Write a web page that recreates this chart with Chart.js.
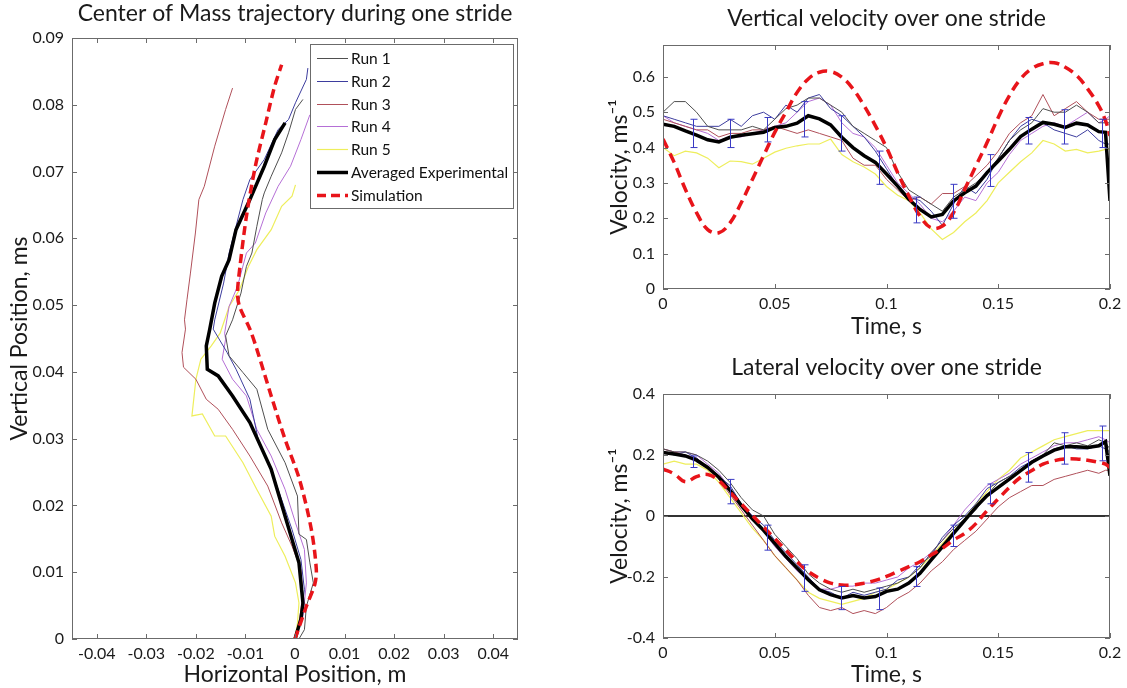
<!DOCTYPE html>
<html lang="en">
<head>
<meta charset="UTF-8">
<title>Centre of mass during one stride</title>
<script src="https://cdn.jsdelivr.net/npm/chart.js"></script>
<style>
  body { margin: 0; background: #fff; overflow: hidden; }
  #wrap { position: relative; width: 1127px; height: 688px; }
  canvas { position: absolute; }
</style>
</head>
<body>
<div id="wrap">
  <canvas id="trajectory" width="560" height="688" style="left:0;top:0"></canvas>
  <canvas id="vertical" width="537" height="340" style="left:590px;top:0"></canvas>
  <canvas id="lateral" width="537" height="343" style="left:590px;top:345px"></canvas>
</div>
<script>
// ---- trajectory (horizontal / vertical position, m) ----
const run1X = [0.0008, 0.0019, 0.0023, 0.0037, 0.003, 0.0023, 0.0008, 0.0005, -0.002, -0.0055, -0.0077, -0.0105, -0.0133, -0.014, -0.0126, -0.0109, -0.0098, -0.0087, -0.0077, -0.0066, -0.0062, -0.0048, -0.0027, -0.0013, 0.0001, 0.0016];
const run1Y = [0, 0.0014, 0.0049, 0.0084, 0.0114, 0.0149, 0.0157, 0.0214, 0.0264, 0.0314, 0.0374, 0.0399, 0.0424, 0.0454, 0.0478, 0.0518, 0.0558, 0.0578, 0.0618, 0.0658, 0.0668, 0.0693, 0.0728, 0.0758, 0.0793, 0.0808];
const run2X = [0, 0.0012, 0.0019, 0.0012, -0.0006, -0.0027, -0.0048, -0.0073, -0.0091, -0.0119, -0.0137, -0.0165, -0.0162, -0.0144, -0.0133, -0.0119, -0.0105, -0.0091, -0.0062, -0.0034, -0.0013, 0.0001, 0.0023, 0.0026];
const run2Y = [0, 0.0034, 0.0074, 0.0119, 0.0164, 0.0209, 0.0254, 0.0294, 0.0359, 0.0404, 0.0429, 0.0464, 0.0478, 0.0533, 0.0578, 0.0618, 0.0658, 0.0688, 0.0718, 0.0763, 0.0778, 0.0803, 0.0838, 0.0855];
const run3X = [0, 0.0008, 0.0016, 0.0012, -0.0006, -0.0027, -0.0055, -0.0091, -0.0126, -0.0155, -0.0179, -0.02, -0.0225, -0.0228, -0.0221, -0.0223, -0.0218, -0.0211, -0.0201, -0.0194, -0.0183, -0.0162, -0.014, -0.0126];
const run3Y = [0, 0.0024, 0.0064, 0.0104, 0.0139, 0.0174, 0.0229, 0.0274, 0.0314, 0.0344, 0.0359, 0.0389, 0.0407, 0.0429, 0.0464, 0.0478, 0.0508, 0.0548, 0.0608, 0.0658, 0.0678, 0.0738, 0.0793, 0.0825];
const run4X = [0, 0.0016, 0.0023, 0.0019, 0.0001, -0.002, -0.0048, -0.0077, -0.0098, -0.0126, -0.0147, -0.014, -0.0142, -0.0133, -0.0116, -0.0098, -0.008, -0.0059, -0.0034, -0.0009, 0.0012, 0.003];
const run4Y = [0, 0.0034, 0.0084, 0.0134, 0.0174, 0.0224, 0.0274, 0.0314, 0.0364, 0.0389, 0.0419, 0.0449, 0.0458, 0.0498, 0.0528, 0.0578, 0.0593, 0.0638, 0.0678, 0.0708, 0.0748, 0.0785];
const run5X = [0, 0.0005, 0.0008, 0.0001, -0.002, -0.0041, -0.0048, -0.0077, -0.0105, -0.014, -0.0162, -0.0187, -0.0208, -0.02, -0.019, -0.0169, -0.0151, -0.0133, -0.0112, -0.0094, -0.0077, -0.0048, -0.0027, -0.0006, 0.0001];
const run5Y = [0, 0.0024, 0.0054, 0.0084, 0.0124, 0.0154, 0.0184, 0.0224, 0.0264, 0.0304, 0.0304, 0.0337, 0.0334, 0.0389, 0.0419, 0.0439, 0.0458, 0.0498, 0.0523, 0.0558, 0.0583, 0.0613, 0.0648, 0.0663, 0.068];
const avgX = [0, 0.0012, 0.0016, 0.0008, -0.002, -0.0048, -0.0091, -0.0126, -0.0155, -0.0177, -0.0179, -0.0172, -0.0162, -0.0148, -0.0133, -0.0119, -0.0091, -0.0062, -0.0041, -0.002];
const avgY = [0, 0.003, 0.0054, 0.0114, 0.0184, 0.0254, 0.0324, 0.0364, 0.0394, 0.0404, 0.0439, 0.0464, 0.0503, 0.0543, 0.0568, 0.0613, 0.0658, 0.0708, 0.0748, 0.0773];
const simX = [0, 0.0023, 0.004, 0.0043, 0.0033, 0.0009, -0.002, -0.0048, -0.0077, -0.0091, -0.0112, -0.0116, -0.0111, -0.0098, -0.008, -0.0059, -0.0041, -0.0027];
const simY = [0, 0.0049, 0.0082, 0.0104, 0.0164, 0.0239, 0.0299, 0.0364, 0.0434, 0.0464, 0.0498, 0.0518, 0.0558, 0.0633, 0.0708, 0.0773, 0.0828, 0.086];

const posXTicks = [-0.04, -0.03, -0.02, -0.01, 0, 0.01, 0.02, 0.03, 0.04];
const posXLabels = ['-0.04', '-0.03', '-0.02', '-0.01', '0', '0.01', '0.02', '0.03', '0.04'];
const posYTicks = [0, 0.01, 0.02, 0.03, 0.04, 0.05, 0.06, 0.07, 0.08, 0.09];
const posYLabels = ['0', '0.01', '0.02', '0.03', '0.04', '0.05', '0.06', '0.07', '0.08', '0.09'];

// ---- velocities over one stride (s, m/s) ----
const time = [0, 0.005, 0.01, 0.015, 0.02, 0.025, 0.03, 0.035, 0.04, 0.045, 0.05, 0.055, 0.06, 0.065, 0.07, 0.075, 0.08, 0.085, 0.09, 0.095, 0.1, 0.105, 0.11, 0.115, 0.12, 0.125, 0.13, 0.135, 0.14, 0.145, 0.15, 0.155, 0.16, 0.165, 0.17, 0.175, 0.18, 0.185, 0.19, 0.195, 0.198, 0.2];

const vertRun1 = [0.50, 0.53, 0.53, 0.50, 0.46, 0.45, 0.45, 0.45, 0.46, 0.45, 0.48, 0.51, 0.52, 0.54, 0.54, 0.52, 0.50, 0.46, 0.44, 0.42, 0.40, 0.33, 0.28, 0.26, 0.24, 0.22, 0.26, 0.28, 0.30, 0.33, 0.37, 0.42, 0.45, 0.47, 0.51, 0.50, 0.50, 0.52, 0.50, 0.47, 0.47, 0.47];
const vertRun2 = [0.49, 0.48, 0.47, 0.46, 0.46, 0.46, 0.48, 0.46, 0.49, 0.50, 0.48, 0.52, 0.50, 0.54, 0.55, 0.51, 0.49, 0.46, 0.43, 0.39, 0.34, 0.29, 0.26, 0.25, 0.22, 0.18, 0.24, 0.29, 0.27, 0.31, 0.37, 0.42, 0.46, 0.48, 0.47, 0.45, 0.44, 0.43, 0.45, 0.42, 0.41, 0.41];
const vertRun3 = [0.48, 0.47, 0.46, 0.45, 0.45, 0.43, 0.44, 0.44, 0.45, 0.45, 0.46, 0.45, 0.44, 0.45, 0.44, 0.43, 0.42, 0.37, 0.35, 0.35, 0.31, 0.28, 0.25, 0.26, 0.24, 0.27, 0.27, 0.29, 0.32, 0.35, 0.39, 0.44, 0.47, 0.49, 0.55, 0.49, 0.51, 0.53, 0.50, 0.48, 0.48, 0.48];
const vertRun4 = [0.49, 0.47, 0.46, 0.45, 0.44, 0.42, 0.43, 0.43, 0.44, 0.45, 0.46, 0.47, 0.50, 0.53, 0.54, 0.52, 0.47, 0.44, 0.43, 0.40, 0.35, 0.30, 0.27, 0.24, 0.20, 0.19, 0.22, 0.26, 0.25, 0.30, 0.33, 0.38, 0.42, 0.44, 0.46, 0.47, 0.46, 0.48, 0.50, 0.47, 0.48, 0.49];
const vertRun5 = [0.40, 0.377, 0.39, 0.385, 0.37, 0.343, 0.362, 0.36, 0.353, 0.37, 0.387, 0.398, 0.405, 0.41, 0.41, 0.424, 0.38, 0.36, 0.345, 0.325, 0.29, 0.265, 0.25, 0.215, 0.17, 0.14, 0.16, 0.19, 0.215, 0.25, 0.30, 0.33, 0.36, 0.385, 0.42, 0.41, 0.39, 0.395, 0.385, 0.39, 0.395, 0.395];
const vertAvg = [0.466, 0.46, 0.447, 0.435, 0.422, 0.416, 0.429, 0.435, 0.439, 0.443, 0.457, 0.46, 0.469, 0.49, 0.481, 0.464, 0.429, 0.40, 0.377, 0.358, 0.325, 0.291, 0.254, 0.225, 0.204, 0.211, 0.249, 0.272, 0.291, 0.329, 0.362, 0.395, 0.431, 0.452, 0.471, 0.466, 0.457, 0.469, 0.464, 0.445, 0.443, 0.249];
const vertSim = [0.424, 0.358, 0.282, 0.216, 0.168, 0.159, 0.187, 0.244, 0.31, 0.377, 0.443, 0.50, 0.556, 0.594, 0.613, 0.615, 0.599, 0.566, 0.518, 0.462, 0.40, 0.329, 0.263, 0.206, 0.173, 0.178, 0.216, 0.282, 0.348, 0.414, 0.485, 0.547, 0.594, 0.623, 0.637, 0.64, 0.627, 0.604, 0.566, 0.518, 0.476, 0.433];

const latRun1 = [0.22, 0.21, 0.21, 0.20, 0.18, 0.15, 0.11, 0.06, 0.02, 0.0, -0.06, -0.10, -0.14, -0.19, -0.22, -0.24, -0.25, -0.24, -0.25, -0.24, -0.23, -0.22, -0.20, -0.17, -0.12, -0.08, -0.04, -0.01, 0.02, 0.07, 0.11, 0.13, 0.15, 0.18, 0.20, 0.24, 0.23, 0.24, 0.23, 0.25, 0.24, 0.22];
const latRun2 = [0.21, 0.20, 0.21, 0.19, 0.16, 0.13, 0.10, 0.04, 0.0, -0.03, -0.08, -0.12, -0.16, -0.20, -0.24, -0.25, -0.27, -0.25, -0.26, -0.25, -0.24, -0.21, -0.20, -0.16, -0.13, -0.07, -0.03, 0.0, 0.04, 0.09, 0.11, 0.13, 0.16, 0.18, 0.20, 0.22, 0.23, 0.22, 0.22, 0.23, 0.22, 0.21];
const latRun3 = [0.22, 0.21, 0.20, 0.19, 0.16, 0.12, 0.07, 0.02, -0.03, -0.08, -0.13, -0.17, -0.21, -0.26, -0.30, -0.31, -0.30, -0.32, -0.31, -0.32, -0.30, -0.27, -0.25, -0.22, -0.18, -0.15, -0.11, -0.08, -0.05, -0.01, 0.03, 0.06, 0.08, 0.10, 0.10, 0.12, 0.13, 0.14, 0.15, 0.14, 0.15, 0.15];
const latRun4 = [0.22, 0.21, 0.21, 0.20, 0.17, 0.14, 0.09, 0.04, 0.0, -0.05, -0.10, -0.14, -0.18, -0.21, -0.24, -0.24, -0.23, -0.23, -0.22, -0.22, -0.21, -0.20, -0.17, -0.15, -0.12, -0.08, -0.03, 0.02, 0.06, 0.10, 0.12, 0.14, 0.17, 0.19, 0.21, 0.23, 0.24, 0.24, 0.25, 0.26, 0.25, 0.24];
const latRun5 = [0.17, 0.18, 0.17, 0.17, 0.15, 0.11, 0.06, 0.01, -0.04, -0.08, -0.13, -0.17, -0.21, -0.25, -0.27, -0.28, -0.29, -0.28, -0.27, -0.25, -0.24, -0.22, -0.20, -0.17, -0.13, -0.09, -0.05, -0.01, 0.04, 0.08, 0.12, 0.15, 0.19, 0.21, 0.23, 0.25, 0.26, 0.27, 0.28, 0.28, 0.28, 0.28];
const latAvg = [0.208, 0.203, 0.197, 0.183, 0.159, 0.127, 0.084, 0.035, -0.009, -0.047, -0.09, -0.133, -0.171, -0.209, -0.242, -0.258, -0.269, -0.261, -0.269, -0.264, -0.247, -0.24, -0.22, -0.188, -0.144, -0.101, -0.057, -0.014, 0.029, 0.067, 0.094, 0.121, 0.149, 0.176, 0.197, 0.216, 0.227, 0.227, 0.225, 0.23, 0.244, 0.132];
const latSim = [0.154, 0.138, 0.112, 0.129, 0.136, 0.116, 0.078, 0.04, 0.002, -0.036, -0.074, -0.112, -0.15, -0.182, -0.204, -0.22, -0.226, -0.226, -0.22, -0.211, -0.198, -0.182, -0.166, -0.15, -0.128, -0.106, -0.079, -0.057, -0.025, 0.018, 0.056, 0.094, 0.127, 0.149, 0.17, 0.181, 0.187, 0.187, 0.183, 0.176, 0.17, 0.159];

// standard deviation bars on the averaged curve
const errTime = [0.0134, 0.0302, 0.0466, 0.063, 0.0798, 0.0966, 0.1131, 0.1298, 0.1464, 0.1631, 0.1795, 0.1964];
const vertLow = [0.40, 0.40, 0.416, 0.43, 0.39, 0.296, 0.187, 0.20, 0.29, 0.41, 0.41, 0.40];
const vertHigh = [0.48, 0.48, 0.485, 0.53, 0.49, 0.39, 0.26, 0.296, 0.38, 0.485, 0.507, 0.48];
const latLow = [0.159, 0.04, -0.112, -0.247, -0.307, -0.307, -0.231, -0.10, 0.04, 0.111, 0.17, 0.181];
const latHigh = [0.197, 0.12, -0.03, -0.16, -0.231, -0.236, -0.166, -0.03, 0.105, 0.208, 0.273, 0.295];

const timeTicks = [0, 0.05, 0.1, 0.15, 0.2];
const timeLabels = ['0', '0.05', '0.1', '0.15', '0.2'];
const vertTicks = [0, 0.1, 0.2, 0.3, 0.4, 0.5, 0.6];
const vertLabels = ['0', '0.1', '0.2', '0.3', '0.4', '0.5', '0.6'];
const latTicks = [-0.4, -0.2, 0, 0.2, 0.4];
const latLabels = ['-0.4', '-0.2', '0', '0.2', '0.4'];

const FONT = 'Lato, "Open Sans", sans-serif';
Chart.defaults.font.family = FONT;
Chart.defaults.color = '#1a1a1a';

const labels = ['Run 1', 'Run 2', 'Run 3', 'Run 4', 'Run 5', 'Averaged Experimental', 'Simulation'];
const styles = [
  { borderColor: '#4f4f4f', borderWidth: 1, order: 2 },
  { borderColor: '#3d3d9e', borderWidth: 1, order: 3 },
  { borderColor: '#b0505a', borderWidth: 1, order: 4 },
  { borderColor: '#b56fd6', borderWidth: 1, order: 5 },
  { borderColor: '#eeee5c', borderWidth: 1.2, order: 6 },
  { borderColor: '#000000', borderWidth: 3.5, order: 1 },
  { borderColor: '#e8141a', borderWidth: 3.5, borderDash: [9, 5], order: 0, tension: 0.3 }
];

function series(i, xs, ys) {
  return Object.assign({
    label: labels[i],
    data: xs.map((x, k) => ({ x: x, y: ys[k] })),
    showLine: true, pointRadius: 0, fill: false, tension: 0
  }, styles[i]);
}

// MATLAB style box with inward ticks on all four sides
const frame = {
  id: 'frame',
  afterDraw(chart) {
    const { ctx, chartArea: a, scales } = chart;
    ctx.save();
    ctx.strokeStyle = '#6b6b6b';
    ctx.lineWidth = 1;
    ctx.strokeRect(Math.round(a.left) + 0.5, Math.round(a.top) + 0.5, Math.round(a.right - a.left) - 1, Math.round(a.bottom - a.top) - 1);
    ctx.beginPath();
    scales.x.ticks.forEach(t => {
      const px = Math.round(scales.x.getPixelForValue(t.value)) + 0.5;
      ctx.moveTo(px, a.bottom); ctx.lineTo(px, a.bottom - 5);
      ctx.moveTo(px, a.top); ctx.lineTo(px, a.top + 5);
    });
    scales.y.ticks.forEach(t => {
      const py = Math.round(scales.y.getPixelForValue(t.value)) + 0.5;
      ctx.moveTo(a.left, py); ctx.lineTo(a.left + 5, py);
      ctx.moveTo(a.right, py); ctx.lineTo(a.right - 5, py);
    });
    ctx.stroke();
    ctx.restore();
  }
};

const errorBars = {
  id: 'errorBars',
  afterDatasetsDraw(chart, args, opts) {
    const { ctx, scales: { x, y } } = chart;
    ctx.save();
    ctx.strokeStyle = opts.color;
    ctx.lineWidth = 1;
    ctx.beginPath();
    opts.times.forEach((t, i) => {
      const px = Math.round(x.getPixelForValue(t)) + 0.5;
      const lo = y.getPixelForValue(opts.low[i]);
      const hi = y.getPixelForValue(opts.high[i]);
      ctx.moveTo(px, lo); ctx.lineTo(px, hi);
      ctx.moveTo(px - 3, lo); ctx.lineTo(px + 4, lo);
      ctx.moveTo(px - 3, hi); ctx.lineTo(px + 4, hi);
    });
    ctx.stroke();
    ctx.restore();
  }
};

// boxed legend in the top right corner of the plot area
const boxLegend = {
  id: 'boxLegend',
  afterDraw(chart) {
    const { ctx, chartArea: a } = chart;
    const items = chart.data.datasets;
    ctx.save();
    ctx.font = '15.5px ' + FONT;
    const textW = Math.max(...items.map(d => ctx.measureText(d.label).width));
    const rowH = 22.8, sample = 31;
    const w = Math.round(7 + sample + 3 + textW + 5);
    const h = Math.round(27 + (items.length - 1) * rowH);
    const left = Math.round(a.right - 5 - w), top = Math.round(a.top + 6);
    ctx.fillStyle = '#fff';
    ctx.fillRect(left, top, w, h);
    ctx.strokeStyle = '#6b6b6b';
    ctx.lineWidth = 1;
    ctx.strokeRect(left + 0.5, top + 0.5, w, h);
    items.forEach((d, i) => {
      const y = Math.round(top + 14 + i * rowH);
      ctx.strokeStyle = d.borderColor;
      ctx.lineWidth = d.borderWidth;
      ctx.setLineDash(d.borderDash || []);
      ctx.beginPath();
      ctx.moveTo(left + 7, y + 0.5);
      ctx.lineTo(left + 7 + sample, y + 0.5);
      ctx.stroke();
      ctx.setLineDash([]);
      ctx.fillStyle = '#111';
      ctx.textBaseline = 'middle';
      ctx.fillText(d.label, left + 7 + sample + 3, y + 1);
    });
    ctx.restore();
  }
};

function fixedTicks(values, names, pad) {
  return {
    afterBuildTicks: s => { s.ticks = values.map(v => ({ value: v })); },
    ticks: { autoSkip: false, maxRotation: 0, padding: pad, font: { size: 16 }, callback: (v, i) => names[i] }
  };
}

function axisTitle(text, pad) {
  return { display: true, text: text, font: { size: 23 }, padding: pad };
}

const noGrid = { display: false, drawTicks: false };

// ---- left: centre of mass trajectory ----
new Chart(document.getElementById('trajectory'), {
  type: 'scatter',
  data: {
    datasets: [
      series(0, run1X, run1Y), series(1, run2X, run2Y), series(2, run3X, run3Y),
      series(3, run4X, run4Y), series(4, run5X, run5Y), series(5, avgX, avgY), series(6, simX, simY)
    ]
  },
  options: {
    responsive: false, animation: false,
    layout: { padding: { left: 0, right: 42, top: 0, bottom: 0 } },
    plugins: {
      legend: { display: false }, tooltip: { enabled: false },
      title: { display: true, fullSize: false, text: 'Center of Mass trajectory during one stride', font: { size: 23, weight: 'normal' }, padding: { top: 0, bottom: 10.4 } }
    },
    scales: {
      x: Object.assign({
        type: 'linear', min: -0.045, max: 0.045,
        grid: noGrid, border: { display: false },
        title: axisTitle('Horizontal Position, m', { top: 0, bottom: 0 }),
        afterFit: s => { s.height = 49; }
      }, fixedTicks(posXTicks, posXLabels, 5)),
      y: Object.assign({
        type: 'linear', min: 0, max: 0.09,
        grid: noGrid, border: { display: false },
        title: axisTitle('Vertical Position, ms', { top: 6, bottom: 0 }),
        afterFit: s => { s.width = 72; }
      }, fixedTicks(posYTicks, posYLabels, 8))
    }
  },
  plugins: [frame, boxLegend]
});

// ---- right: velocity panels ----
function velocityChart(id, title, runs, avg, sim, yMin, yMax, yTicks, yLabels, err, geom) {
  const ds = runs.map((r, i) => series(i, time, r));
  ds.push(series(5, time, avg));
  const s = series(6, time, sim);
  s.tension = 0.4;
  s.borderDash = [10, 6];
  ds.push(s);
  return new Chart(document.getElementById(id), {
    type: 'scatter',
    data: { datasets: ds },
    options: {
      responsive: false, animation: false,
      layout: { padding: { left: 0, right: 17, top: 0, bottom: 0 } },
      plugins: {
        legend: { display: false }, tooltip: { enabled: false },
        title: { display: true, fullSize: false, text: title, font: { size: 23, weight: 'normal' }, padding: geom.title },
        errorBars: err
      },
      scales: {
        x: Object.assign({
          type: 'linear', min: 0, max: 0.2,
          grid: noGrid, border: { display: false },
          title: axisTitle('Time, s', { top: 0, bottom: 0 }),
          afterFit: sc => { sc.height = geom.xh; }
        }, fixedTicks(timeTicks, timeLabels, 5)),
        y: Object.assign({
          type: 'linear', min: yMin, max: yMax,
          grid: geom.zero ? {
            display: true, drawTicks: false, drawOnChartArea: true, lineWidth: 2,
            color: c => (c.tick && c.tick.value === 0 ? '#333333' : 'rgba(0,0,0,0)')
          } : noGrid,
          border: { display: false },
          title: axisTitle('Velocity, ms⁻¹', { top: 16, bottom: 0 }),
          afterFit: sc => { sc.width = 73; }
        }, fixedTicks(yTicks, yLabels, 8))
      }
    },
    plugins: [frame, errorBars]
  });
}

velocityChart('vertical', 'Vertical velocity over one stride',
  [vertRun1, vertRun2, vertRun3, vertRun4, vertRun5], vertAvg, vertSim,
  0, 0.69, vertTicks, vertLabels,
  { times: errTime, low: vertLow, high: vertHigh, color: '#3a3ac4' },
  { title: { top: 5, bottom: 12.4 }, xh: 51, zero: false });

velocityChart('lateral', 'Lateral velocity over one stride',
  [latRun1, latRun2, latRun3, latRun4, latRun5], latAvg, latSim,
  -0.4, 0.4, latTicks, latLabels,
  { times: errTime, low: latLow, high: latHigh, color: '#3a3ac4' },
  { title: { top: 9.2, bottom: 12.2 }, xh: 50, zero: true });
</script>
</body>
</html>
